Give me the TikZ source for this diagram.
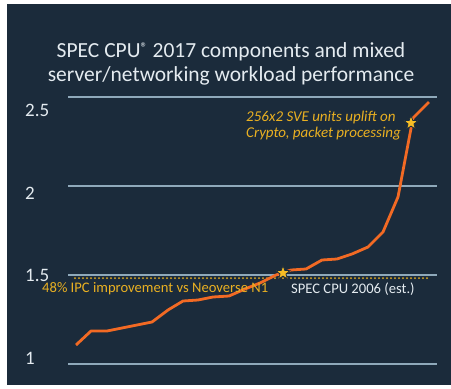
\documentclass[tikz,border=0pt]{standalone}
\usepackage{fontspec}
\setmainfont{Carlito}
\usepackage{tikz}
\usetikzlibrary{shapes.geometric}

\definecolor{slide}{HTML}{1B2B3B}
\definecolor{gridcol}{HTML}{8FA9BA}
\definecolor{perf}{HTML}{F26A24}
\definecolor{gold}{HTML}{E9B022}
\definecolor{starfill}{HTML}{F7BE25}
\definecolor{labelcol}{HTML}{E4EBF0}

\begin{document}
\begin{tikzpicture}[x=1pt,y=-1pt,
  gridline/.style={draw=gridcol,line width=1.2pt},
  ticklabel/.style={anchor=west,inner sep=0pt,text=labelcol,font=\fontsize{19}{22}\selectfont},
  note/.style={anchor=west,inner sep=0pt,font=\fontsize{14.6}{16}\selectfont},
  marker/.style={star,star points=5,star point ratio=2.4,fill=starfill,draw=slide,line width=0.8pt,minimum size=15pt,inner sep=0pt}]

  \useasboundingbox (0,0) rectangle (451,389);
  \fill[slide] (7,4) rectangle (451,385);

  % title
  \node[text=labelcol,align=center,font=\fontsize{21.5}{23.5}\selectfont] (title) at (231,64)
    {SPEC CPU{\fontsize{14}{14}\selectfont\raisebox{5pt}{\textregistered}} 2017 components and mixed\\server/networking workload performance};

  % grid and axis labels
  \foreach \y in {97,186,275,364}
    \draw[gridline] (68,\y) -- (437,\y);
  \node[ticklabel] (l25) at (25,110) {2.5};
  \node[ticklabel] (l20) at (25,193) {2};
  \node[ticklabel] (l15) at (25,275) {1.5};
  \node[ticklabel] (l10) at (25,358) {1};

  % N1 baseline
  \draw[gold,line width=2pt,line cap=round,dash pattern=on 0pt off 4pt] (75,278) -- (427,278);

  % performance curve
  \draw[perf,line width=2.8pt,line join=round] plot coordinates {
    (76,345) (91,331) (107,331) (122,328) (137,325) (152,322) (168,310)
    (183,301) (198,300) (213,297) (229,296) (245,289) (260,283) (276,275)
    (291,270) (306,269) (322,260) (337,259) (352,254) (368,247) (383,232)
    (398,197) (413,118) (429,102)};

  \node[marker] (n1) at (283,273) {};
  \node[marker] (sve) at (411,123) {};

  % annotations
  \node[note,text=gold] (ipc) at (42,289) {48\% IPC improvement vs Neoverse N1};
  \node[note,text=labelcol] (spec06) at (291,289) {SPEC CPU 2006 (est.)};
  \node[note,text=gold,anchor=north west,align=left,font=\fontsize{15}{16}\selectfont\itshape] (uplift) at (246,111)
    {256x2 SVE units uplift on\\Crypto, packet processing};
\end{tikzpicture}
\end{document}
